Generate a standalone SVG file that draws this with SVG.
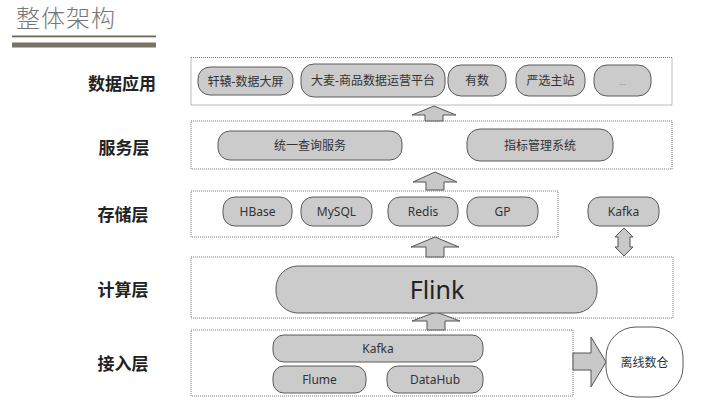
<svg xmlns="http://www.w3.org/2000/svg" width="706" height="411" viewBox="0 0 706 411">
<style>
.layer{fill:none;stroke:#777;stroke-width:1;stroke-dasharray:1,1}
.node rect{fill:#cbcbcb;stroke:#5a5a5a;stroke-width:1}
.node text{font-family:"Noto Sans","Noto Sans CJK SC",sans-serif;font-size:12px;fill:#333;text-anchor:middle;dominant-baseline:central}
.lbl{font-family:"Noto Sans CJK SC",sans-serif;font-size:17px;font-weight:bold;fill:#222;text-anchor:middle;dominant-baseline:central}
.arr{fill:#c8c8c8;stroke:#555;stroke-width:1}
</style>
<rect width="706" height="411" fill="#fff"/>
<g id="title">
<text x="16" y="27" font-family="Noto Sans CJK SC,sans-serif" font-size="24" font-weight="300" fill="#777" letter-spacing="1">整体架构</text>
<rect x="12" y="35.5" width="144" height="1.8" fill="#6e6657"/>
<rect x="12" y="42.5" width="144" height="5" fill="#7a7262"/>
</g>
<g id="layer-labels">
<text class="lbl" x="122" y="82">数据应用</text>
<text class="lbl" x="124" y="146">服务层</text>
<text class="lbl" x="123" y="213">存储层</text>
<text class="lbl" x="123" y="288">计算层</text>
<text class="lbl" x="123" y="362">接入层</text>
</g>
<g id="layers">
<rect class="layer" x="191" y="57.5" width="481" height="47.5"/>
<rect class="layer" x="191" y="121" width="481" height="48"/>
<rect class="layer" x="191" y="191" width="367" height="46"/>
<rect class="layer" x="191" y="257" width="482" height="61"/>
<rect class="layer" x="191" y="330" width="382" height="66"/>
</g>
<g id="connectors">
<polygon class="arr" points="434,106 456,115 443,115 443,121 425,121 425,115 412,115"/>
<polygon class="arr" points="435,172 457,182 444,182 444,190 426,190 426,182 413,182"/>
<polygon class="arr" points="435,237 459,247 444,247 444,257 426,257 426,247 411,247"/>
<polygon class="arr" points="436,312 460,321 445,321 445,330 427,330 427,321 412,321"/>
<polygon class="arr" points="624,228 633,237 630,237 630,247 633,247 624,256 615,247 618,247 618,237 615,237"/>
<polygon class="arr" points="573,353 591,353 591,337 606,362 591,387 591,370 573,370"/>
</g>
<g id="n-xuanyuan" class="node"><rect x="198" y="67" width="95" height="28" rx="12"/><text x="245.5" y="81">轩辕-数据大屏</text></g>
<g id="n-damai" class="node"><rect x="301" y="64" width="144" height="33" rx="13"/><text x="373" y="80.5">大麦-商品数据运营平台</text></g>
<g id="n-youshu" class="node"><rect x="448" y="65" width="58" height="31" rx="13"/><text x="477" y="80.5">有数</text></g>
<g id="n-yanxuan" class="node"><rect x="516" y="65" width="69" height="31" rx="13"/><text x="550.5" y="80.5">严选主站</text></g>
<g id="n-more" class="node"><rect x="594" y="65" width="57" height="31" rx="13"/><text x="622.5" y="81" style="fill:#888;font-size:9px">…</text></g>
<g id="n-query" class="node"><rect x="218" y="131" width="184" height="29" rx="12"/><text x="310" y="145.5">统一查询服务</text></g>
<g id="n-metric" class="node"><rect x="467" y="129" width="146" height="32" rx="13"/><text x="540" y="145">指标管理系统</text></g>
<g id="n-hbase" class="node"><rect x="223" y="197" width="69" height="29" rx="12"/><text x="257.5" y="211.5">HBase</text></g>
<g id="n-mysql" class="node"><rect x="301" y="197" width="71" height="29" rx="12"/><text x="336.5" y="211.5">MySQL</text></g>
<g id="n-redis" class="node"><rect x="388" y="197" width="70" height="29" rx="12"/><text x="423" y="211.5">Redis</text></g>
<g id="n-gp" class="node"><rect x="467" y="197" width="71" height="29" rx="12"/><text x="502.5" y="211.5">GP</text></g>
<g id="n-kafka-store" class="node"><rect x="588" y="197" width="71" height="29" rx="12"/><text x="623.5" y="211.5">Kafka</text></g>
<g id="n-flink" class="node"><rect x="276" y="266" width="321" height="47" rx="22"/><text x="437" y="289" style="font-size:25px;fill:#222">Flink</text></g>
<g id="n-kafka-in" class="node"><rect x="273" y="335" width="210" height="27" rx="11"/><text x="378" y="348.5">Kafka</text></g>
<g id="n-flume" class="node"><rect x="273" y="366" width="93" height="27" rx="11"/><text x="319.5" y="379.5">Flume</text></g>
<g id="n-datahub" class="node"><rect x="387" y="366" width="96" height="27" rx="11"/><text x="435" y="379.5">DataHub</text></g>
<g id="n-offline" class="node"><rect x="606" y="327" width="77" height="70" rx="30" style="fill:#fff"/><text x="644.5" y="362">离线数仓</text></g>
</svg>
